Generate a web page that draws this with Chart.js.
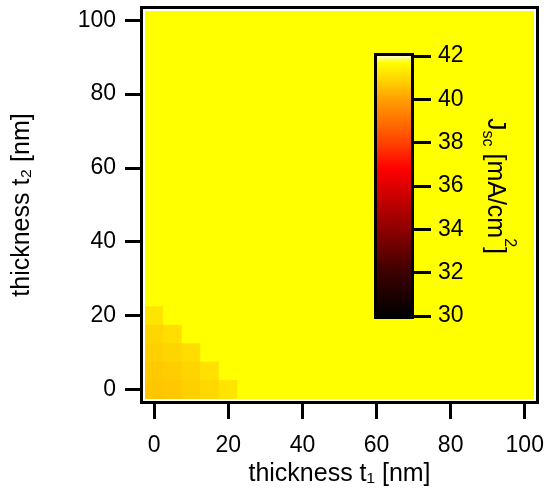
<!DOCTYPE html>
<html><head><meta charset="utf-8">
<script src="https://cdn.jsdelivr.net/npm/chart.js@4.4.1/dist/chart.umd.min.js"></script>
<style>
html,body{margin:0;padding:0;background:#fff;}
#wrap{position:relative;width:547px;height:493px;}
#wrap canvas{position:absolute;left:0;top:0;}
</style></head><body>
<div id="wrap"><canvas id="main" width="547" height="493"></canvas><canvas id="cbar" width="547" height="493"></canvas></div>
<script>
// ---- data ----
const t1Values = [0,5,10,15,20,25,30,35,40,45,50,55,60,65,70,75,80,85,90,95,100];
const t2Values = [0,5,10,15,20,25,30,35,40,45,50,55,60,65,70,75,80,85,90,95,100];
// jscValues[i][j] : Jsc (mA/cm^2) at t2 = t2Values[i], t1 = t1Values[j]
const jscValues = [
  [40.66,40.69,40.83,40.98,41.20,41.7,41.7,41.7,41.7,41.7,41.7,41.7,41.7,41.7,41.7,41.7,41.7,41.7,41.7,41.7,41.7],
  [40.73,40.78,40.92,41.12,41.7,41.7,41.7,41.7,41.7,41.7,41.7,41.7,41.7,41.7,41.7,41.7,41.7,41.7,41.7,41.7,41.7],
  [40.83,40.92,41.06,41.7,41.7,41.7,41.7,41.7,41.7,41.7,41.7,41.7,41.7,41.7,41.7,41.7,41.7,41.7,41.7,41.7,41.7],
  [40.96,41.08,41.7,41.7,41.7,41.7,41.7,41.7,41.7,41.7,41.7,41.7,41.7,41.7,41.7,41.7,41.7,41.7,41.7,41.7,41.7],
  [41.20,41.7,41.7,41.7,41.7,41.7,41.7,41.7,41.7,41.7,41.7,41.7,41.7,41.7,41.7,41.7,41.7,41.7,41.7,41.7,41.7],
  [41.7,41.7,41.7,41.7,41.7,41.7,41.7,41.7,41.7,41.7,41.7,41.7,41.7,41.7,41.7,41.7,41.7,41.7,41.7,41.7,41.7],
  [41.7,41.7,41.7,41.7,41.7,41.7,41.7,41.7,41.7,41.7,41.7,41.7,41.7,41.7,41.7,41.7,41.7,41.7,41.7,41.7,41.7],
  [41.7,41.7,41.7,41.7,41.7,41.7,41.7,41.7,41.7,41.7,41.7,41.7,41.7,41.7,41.7,41.7,41.7,41.7,41.7,41.7,41.7],
  [41.7,41.7,41.7,41.7,41.7,41.7,41.7,41.7,41.7,41.7,41.7,41.7,41.7,41.7,41.7,41.7,41.7,41.7,41.7,41.7,41.7],
  [41.7,41.7,41.7,41.7,41.7,41.7,41.7,41.7,41.7,41.7,41.7,41.7,41.7,41.7,41.7,41.7,41.7,41.7,41.7,41.7,41.7],
  [41.7,41.7,41.7,41.7,41.7,41.7,41.7,41.7,41.7,41.7,41.7,41.7,41.7,41.7,41.7,41.7,41.7,41.7,41.7,41.7,41.7],
  [41.7,41.7,41.7,41.7,41.7,41.7,41.7,41.7,41.7,41.7,41.7,41.7,41.7,41.7,41.7,41.7,41.7,41.7,41.7,41.7,41.7],
  [41.7,41.7,41.7,41.7,41.7,41.7,41.7,41.7,41.7,41.7,41.7,41.7,41.7,41.7,41.7,41.7,41.7,41.7,41.7,41.7,41.7],
  [41.7,41.7,41.7,41.7,41.7,41.7,41.7,41.7,41.7,41.7,41.7,41.7,41.7,41.7,41.7,41.7,41.7,41.7,41.7,41.7,41.7],
  [41.7,41.7,41.7,41.7,41.7,41.7,41.7,41.7,41.7,41.7,41.7,41.7,41.7,41.7,41.7,41.7,41.7,41.7,41.7,41.7,41.7],
  [41.7,41.7,41.7,41.7,41.7,41.7,41.7,41.7,41.7,41.7,41.7,41.7,41.7,41.7,41.7,41.7,41.7,41.7,41.7,41.7,41.7],
  [41.7,41.7,41.7,41.7,41.7,41.7,41.7,41.7,41.7,41.7,41.7,41.7,41.7,41.7,41.7,41.7,41.7,41.7,41.7,41.7,41.7],
  [41.7,41.7,41.7,41.7,41.7,41.7,41.7,41.7,41.7,41.7,41.7,41.7,41.7,41.7,41.7,41.7,41.7,41.7,41.7,41.7,41.7],
  [41.7,41.7,41.7,41.7,41.7,41.7,41.7,41.7,41.7,41.7,41.7,41.7,41.7,41.7,41.7,41.7,41.7,41.7,41.7,41.7,41.7],
  [41.7,41.7,41.7,41.7,41.7,41.7,41.7,41.7,41.7,41.7,41.7,41.7,41.7,41.7,41.7,41.7,41.7,41.7,41.7,41.7,41.7],
  [41.7,41.7,41.7,41.7,41.7,41.7,41.7,41.7,41.7,41.7,41.7,41.7,41.7,41.7,41.7,41.7,41.7,41.7,41.7,41.7,41.7]
];
const xTicks = [0,20,40,60,80,100];
const yTicks = [0,20,40,60,80,100];
const cbarTicks = [30,32,34,36,38,40,42];
// colour map (value -> colour) used for cells and colour bar
const cmapStops  = [30,       32,       34,       36,       36.8,     38,       40,       40.9,     41.7,     42];
const cmapColors = ['#000000','#3c0000','#8e0000','#de0000','#ff0000','#ff4200','#ffa000','#ffd400','#ffff00','#ffffc8'];

// ---- helpers ----
function hexToRgb(h){return [parseInt(h.substr(1,2),16),parseInt(h.substr(3,2),16),parseInt(h.substr(5,2),16)];}
function cmap(v){
  if (v <= cmapStops[0]) return cmapColors[0];
  const n = cmapStops.length;
  if (v >= cmapStops[n-1]) return cmapColors[n-1];
  for (let i=0;i<n-1;i++){
    if (v>=cmapStops[i] && v<=cmapStops[i+1]){
      const f=(v-cmapStops[i])/(cmapStops[i+1]-cmapStops[i]);
      const a=hexToRgb(cmapColors[i]), b=hexToRgb(cmapColors[i+1]);
      const c=a.map((x,k)=>Math.round(x+(b[k]-x)*f));
      return 'rgb('+c.join(',')+')';
    }
  }
}
const FONT = "'Liberation Sans', Arial, Helvetica, sans-serif";
const halfX = (t1Values[1]-t1Values[0])/2;
const halfY = (t2Values[1]-t2Values[0])/2;
function noPad(s){s.paddingTop=0;s.paddingBottom=0;s.paddingLeft=0;s.paddingRight=0;}

// ---- main heat map ----
const datasets = t2Values.map((t2,i)=>({
  data: t1Values.map(t1=>({x:t1, y:[t2-halfY, t2+halfY]})),
  backgroundColor: t1Values.map((t1,j)=>cmap(jscValues[i][j])),
  borderWidth:0, borderSkipped:false, grouped:false,
  barPercentage:1, categoryPercentage:1
}));

const bgPlugin = {
  id:'bg',
  beforeDatasetsDraw(chart){
    const a=chart.chartArea, ctx=chart.ctx;
    ctx.save(); ctx.fillStyle=cmap(jscValues[jscValues.length-1][t1Values.length-1]);
    ctx.fillRect(a.left,a.top,a.width,a.height); ctx.restore();
  },
  afterDraw(chart){
    const a=chart.chartArea, ctx=chart.ctx;
    ctx.save();
    ctx.strokeStyle='#fff'; ctx.lineWidth=2;
    ctx.strokeRect(a.left-1,a.top-1,a.width+2,a.height+2);
    ctx.strokeStyle='#000'; ctx.lineWidth=3;
    ctx.strokeRect(a.left-3.5,a.top-3.5,a.width+7,a.height+7);
    ctx.restore();
  }
};

new Chart(document.getElementById('main'),{
  type:'bar',
  data:{datasets},
  plugins:[bgPlugin],
  options:{
    responsive:false, animation:false, events:[],
    layout:{padding:{left:0,top:11,right:13,bottom:0}},
    plugins:{legend:{display:false},tooltip:{enabled:false}},
    scales:{
      x:{type:'linear', min:t1Values[0]-halfX, max:t1Values[t1Values.length-1]+halfX, offset:false,
        grid:{offset:false, drawOnChartArea:false, color:'#000', lineWidth:3, tickLength:20},
        border:{display:false},
        ticks:{color:'#000', font:{family:FONT,size:23}, padding:13, maxRotation:0},
        afterBuildTicks:s=>{s.ticks=xTicks.map(v=>({value:v}));},
        afterFit:s=>{s.height=94; noPad(s);},
        title:{display:true, text:'thickness t\u2081 [nm]', color:'#000', font:{family:FONT,size:25}, padding:{top:0,bottom:4}}
      },
      y:{type:'linear', min:t2Values[0]-halfY, max:t2Values[t2Values.length-1]+halfY,
        grid:{drawOnChartArea:false, color:'#000', lineWidth:3, tickLength:20},
        border:{display:false},
        ticks:{color:'#000', font:{family:FONT,size:23}, padding:9},
        afterBuildTicks:s=>{s.ticks=yTicks.map(v=>({value:v}));},
        afterFit:s=>{s.width=145; noPad(s);},
        title:{display:true, text:'thickness t\u2082 [nm]', color:'#000', font:{family:FONT,size:25}, padding:{top:7,bottom:0}}
      }
    }
  }
});

// ---- colour bar ----
const cbarPlugin = {
  id:'cbarBox',
  afterDraw(chart){
    const a=chart.chartArea, ctx=chart.ctx;
    ctx.save();
    ctx.strokeStyle='#000'; ctx.lineWidth=3;
    ctx.strokeRect(a.left-1.5,a.top-1.5,a.width+3,a.height+3);
    // axis title  J_sc [mA/cm^2]  rotated clockwise
    const parts=[
      {t:'J', s:25, dy:0},
      {t:'sc', s:16, dy:5},
      {t:' [mA/cm', s:25, dy:0},
      {t:'2', s:16, dy:-17},
      {t:']', s:25, dy:0}
    ];
    let total=0;
    parts.forEach(p=>{ctx.font=p.s+'px '+FONT; p.w=ctx.measureText(p.t).width; total+=p.w;});
    ctx.translate(488,(a.top+a.bottom)/2);
    ctx.rotate(Math.PI/2);
    ctx.fillStyle='#000'; ctx.textBaseline='alphabetic'; ctx.textAlign='left';
    let x=-total/2;
    parts.forEach(p=>{ctx.font=p.s+'px '+FONT; ctx.fillText(p.t,x,p.dy); x+=p.w;});
    ctx.restore();
  }
};

new Chart(document.getElementById('cbar'),{
  type:'bar',
  data:{labels:['Jsc'], datasets:[{
    data:[[cbarTicks[0], cbarTicks[cbarTicks.length-1]]],
    backgroundColor:(c)=>{
      const ch=c.chart; if(!ch.chartArea || !ch.scales.y) return cmapColors[0];
      const ys=ch.scales.y, n=cmapStops.length;
      const y0=ys.getPixelForValue(cmapStops[0]), y1=ys.getPixelForValue(cmapStops[n-1]);
      const g=ch.ctx.createLinearGradient(0,y0,0,y1);
      cmapStops.forEach((v,i)=>g.addColorStop((v-cmapStops[0])/(cmapStops[n-1]-cmapStops[0]), cmapColors[i]));
      return g;
    },
    borderWidth:0, borderSkipped:false, barPercentage:1, categoryPercentage:1
  }]},
  plugins:[cbarPlugin],
  options:{
    responsive:false, animation:false, events:[],
    layout:{padding:{left:377,top:56,right:0,bottom:177}},
    plugins:{legend:{display:false},tooltip:{enabled:false}},
    scales:{
      x:{display:false},
      y:{position:'right', min:cbarTicks[0], max:cbarTicks[cbarTicks.length-1],
        grid:{drawOnChartArea:false, color:'#000', lineWidth:3, tickLength:20},
        border:{display:false},
        ticks:{color:'#000', font:{family:FONT,size:23}, padding:7},
        afterBuildTicks:s=>{s.ticks=cbarTicks.map(v=>({value:v}));},
        afterFit:s=>{s.width=136; noPad(s);}
      }
    }
  }
});
</script>
</body></html>
